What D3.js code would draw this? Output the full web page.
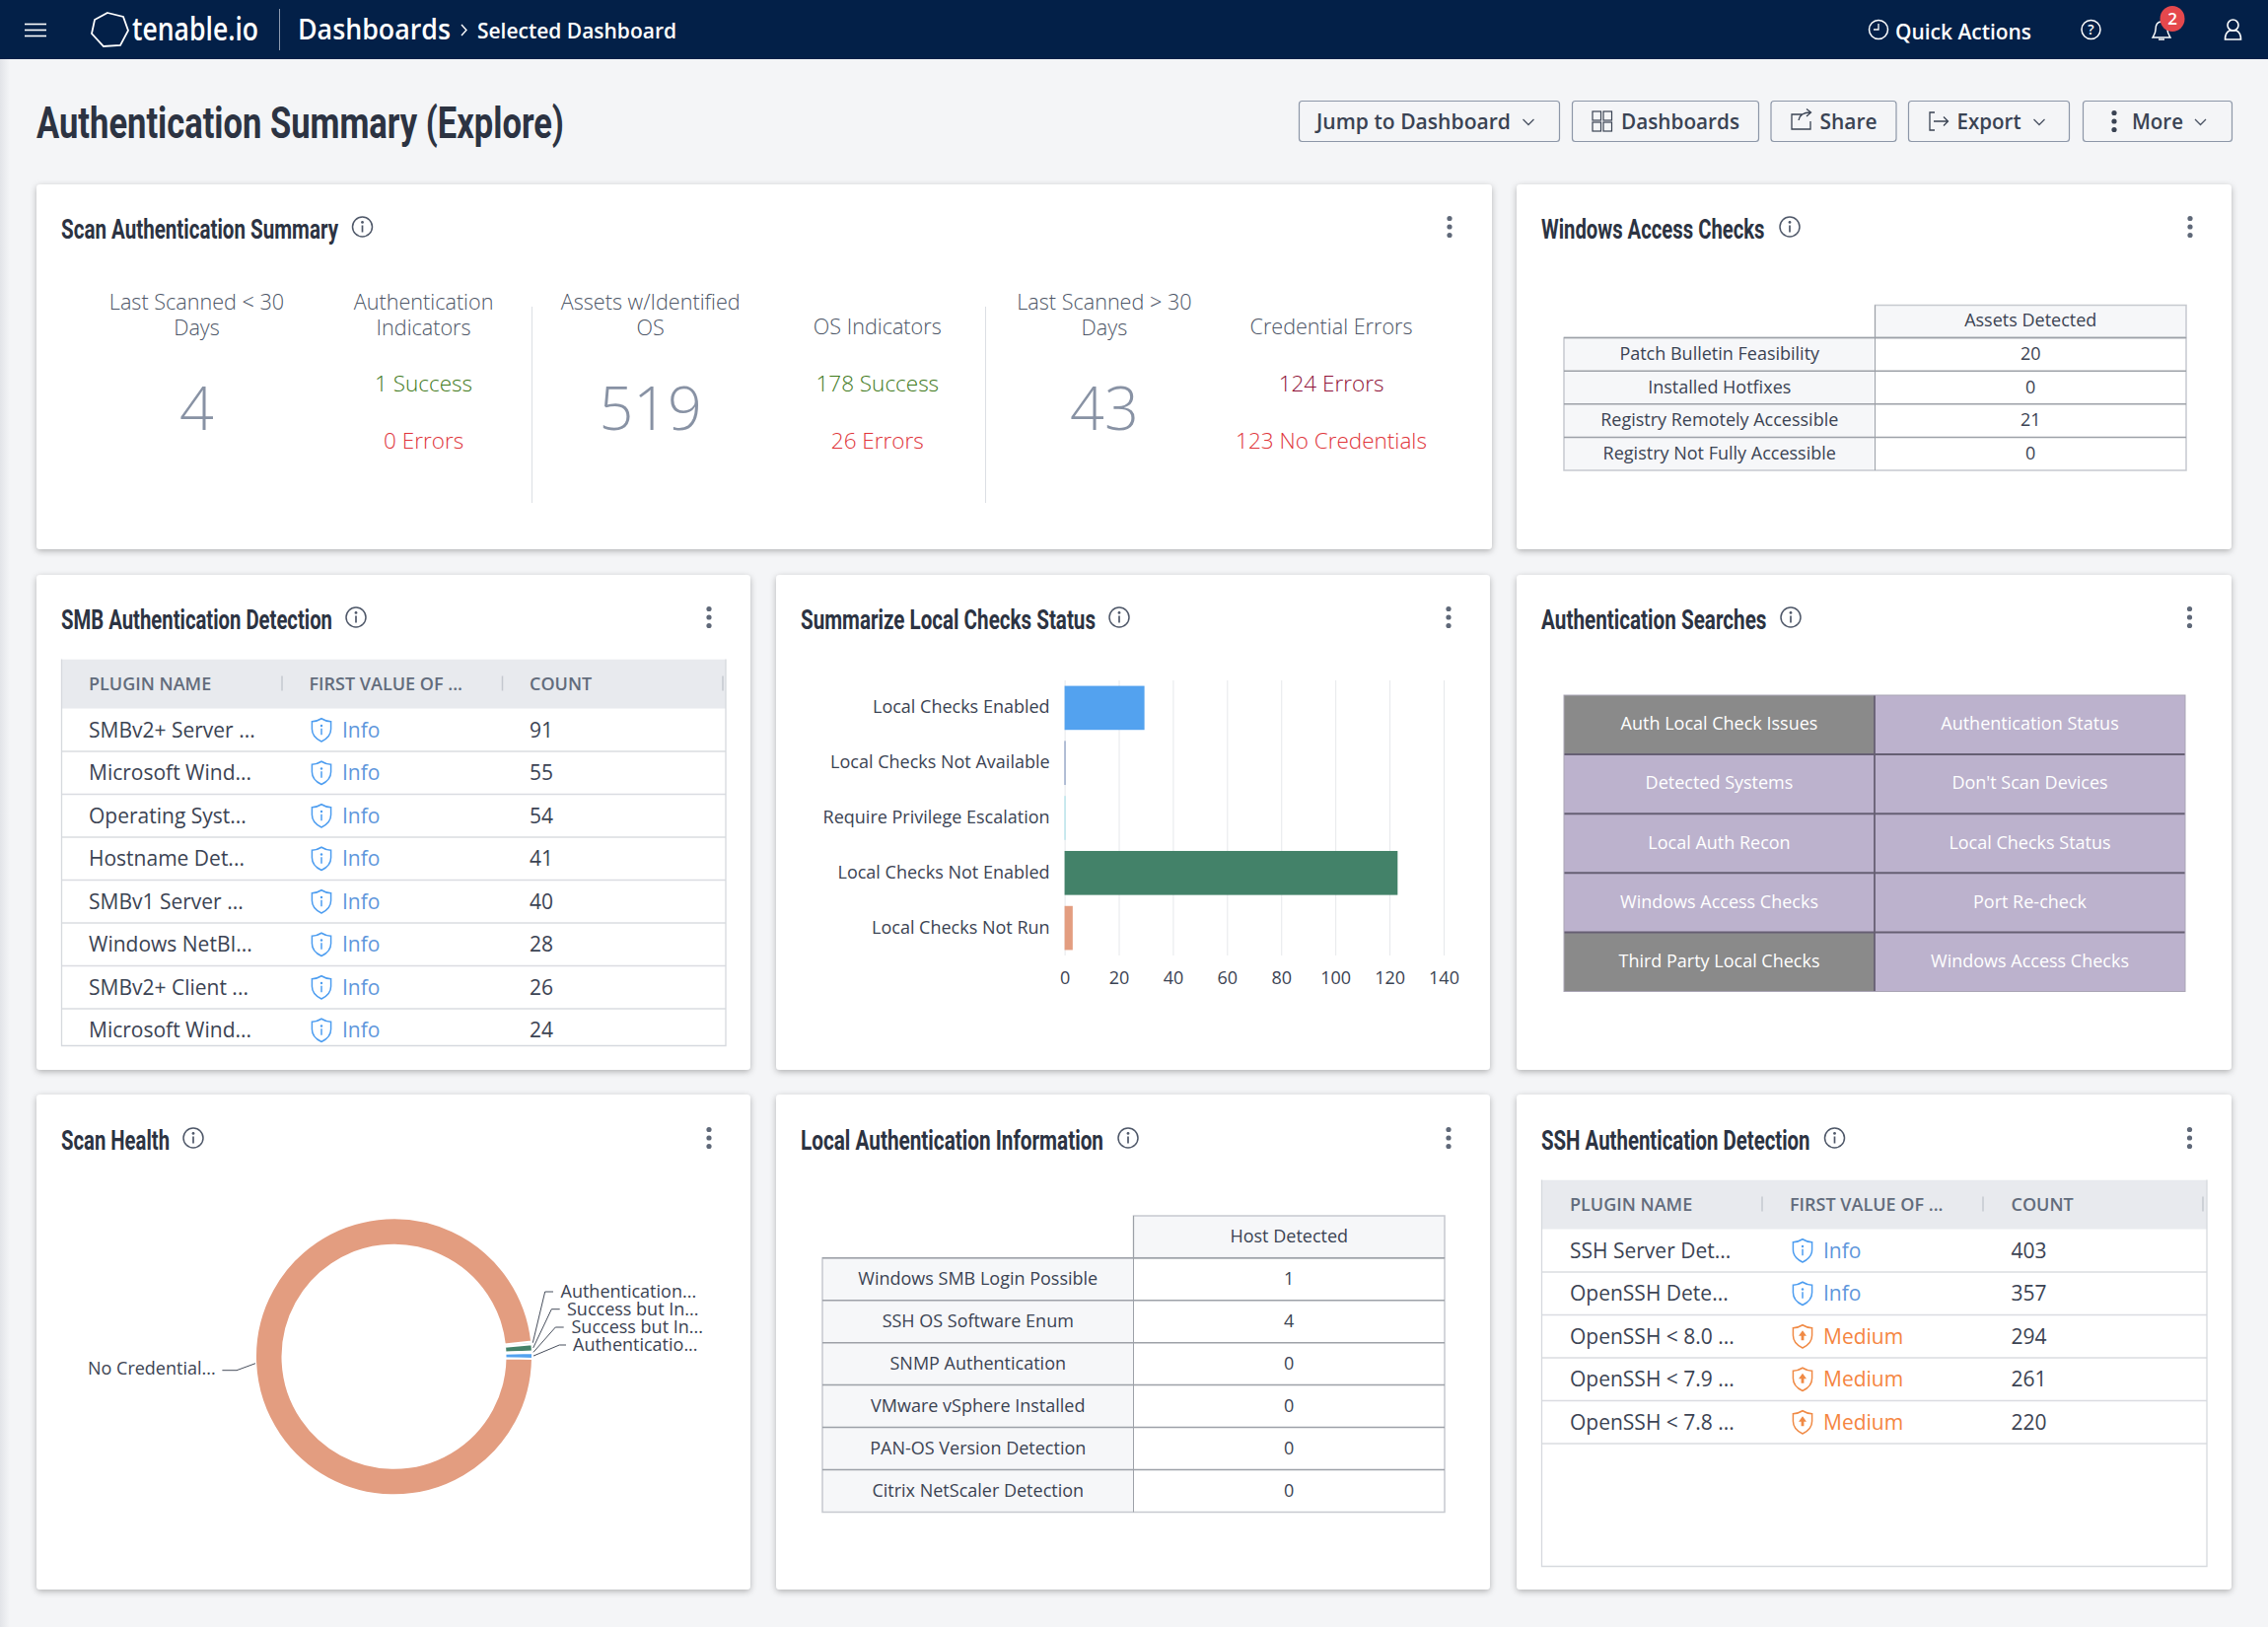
<!DOCTYPE html>
<html>
<head>
<meta charset="utf-8">
<script src="https://cdnjs.cloudflare.com/ajax/libs/d3/7.8.5/d3.min.js"></script>
<style>
  html, body { margin: 0; padding: 0; background: #f4f5f7; }
  svg { display: block; }
  text { font-family: "Open Sans", sans-serif; }
  .title { font-family: "Liberation Sans Narrow", "Roboto", sans-serif; font-weight: 700; fill: #2c3342; }
</style>
</head>
<body>
<div id="chart"></div>
<script>
// ---- values ----
var summaryLabels = [["Last Scanned < 30", "Days"], ["Authentication", "Indicators"], ["Assets w/Identified", "OS"], ["OS Indicators"], ["Last Scanned > 30", "Days"], ["Credential Errors"]];
var summaryNumbers = ["4", "", "519", "", "43", ""];
var summaryUpper = ["", "1 Success", "", "178 Success", "", "124 Errors"];
var summaryLower = ["", "0 Errors", "", "26 Errors", "", "123 No Credentials"];

var windowsRows = ["Patch Bulletin Feasibility", "Installed Hotfixes", "Registry Remotely Accessible", "Registry Not Fully Accessible"];
var windowsCounts = [20, 0, 21, 0];

var smbPlugins = ["SMBv2+ Server ...", "Microsoft Wind...", "Operating Syst...", "Hostname Det...", "SMBv1 Server ...", "Windows NetBI...", "SMBv2+ Client ...", "Microsoft Wind..."];
var smbSeverity = ["Info", "Info", "Info", "Info", "Info", "Info", "Info", "Info"];
var smbCounts = [91, 55, 54, 41, 40, 28, 26, 24];

var localCategories = ["Local Checks Enabled", "Local Checks Not Available", "Require Privilege Escalation", "Local Checks Not Enabled", "Local Checks Not Run"];
var localValues = [29.5, 0.3, 0.3, 123, 3];
var localTicks = [0, 20, 40, 60, 80, 100, 120, 140];

var searchNames = ["Auth Local Check Issues", "Authentication Status", "Detected Systems", "Don't Scan Devices", "Local Auth Recon", "Local Checks Status", "Windows Access Checks", "Port Re-check", "Third Party Local Checks", "Windows Access Checks"];
var searchGrey = [true, false, false, false, false, false, false, false, true, false];

var healthLabels = ["Authentication...", "Success but In...", "Success but In...", "Authenticatio...", "No Credential..."];
var healthValues = [2, 5, 1, 4, 588];

var hostRows = ["Windows SMB Login Possible", "SSH OS Software Enum", "SNMP Authentication", "VMware vSphere Installed", "PAN-OS Version Detection", "Citrix NetScaler Detection"];
var hostCounts = [1, 4, 0, 0, 0, 0];

var sshPlugins = ["SSH Server Det...", "OpenSSH Dete...", "OpenSSH < 8.0 ...", "OpenSSH < 7.9 ...", "OpenSSH < 7.8 ..."];
var sshSeverity = ["Info", "Info", "Medium", "Medium", "Medium"];
var sshCounts = [403, 357, 294, 261, 220];

var pluginHeaders = ["PLUGIN NAME", "FIRST VALUE OF ...", "COUNT"];

var ink = "#333b4b", infoBlue = "#5f97dc", mediumOrange = "#f5853f";

var svg = d3.select("#chart").append("svg").attr("width", 2300).attr("height", 1650);
var defs = svg.append("defs");

var shadow = defs.append("filter").attr("id", "cardShadow").attr("x", "-5%").attr("y", "-5%").attr("width", "110%").attr("height", "110%");
shadow.append("feDropShadow").attr("dx", 0).attr("dy", 2).attr("stdDeviation", 3).attr("flood-color", "#000").attr("flood-opacity", 0.28);

var edge = defs.append("linearGradient").attr("id", "leftEdge");
edge.append("stop").attr("offset", 0).attr("stop-color", "#e2e4e8");
edge.append("stop").attr("offset", 1).attr("stop-color", "#f4f5f7");

svg.append("rect").attr("width", 2300).attr("height", 1650).attr("fill", "#f4f5f7");
svg.append("rect").attr("y", 60).attr("width", 10).attr("height", 1590).attr("fill", "url(#leftEdge)");

// small helper so every label does not repeat the same attrs
function label(parent, str, x, y, size, opts) {
    opts = opts || {};
    var t = parent.append("text")
        .attr("x", x).attr("y", y).attr("dy", ".35em")
        .attr("font-size", size)
        .attr("fill", opts.fill || ink)
        .attr("font-weight", opts.weight || 400)
        .attr("text-anchor", opts.anchor || "start")
        .text(str);
    if (opts.width) t.attr("textLength", opts.width).attr("lengthAdjust", "spacingAndGlyphs");
    return t;
}

function infoIcon(parent, cx, cy) {
    var g = parent.append("g").attr("transform", "translate(" + cx + "," + cy + ")");
    g.append("circle").attr("r", 10).attr("fill", "none").attr("stroke", "#4f5869").attr("stroke-width", 1.5);
    g.append("circle").attr("cy", -4.6).attr("r", 1.4).attr("fill", "#4f5869");
    g.append("line").attr("y1", -1.5).attr("y2", 5.5).attr("stroke", "#4f5869").attr("stroke-width", 1.7);
}

function kebab(parent, cx, cy, color) {
    [-8.5, 0, 8.5].forEach(function(d) {
        parent.append("circle").attr("cx", cx).attr("cy", cy + d).attr("r", 2.6).attr("fill", color || "#5f6878");
    });
}

function card(x, y, x2, y2, title, titleWidth, infoX, kebabX, titleY) {
    var g = svg.append("g");
    g.append("rect").attr("x", x).attr("y", y).attr("width", x2 - x).attr("height", y2 - y)
        .attr("rx", 4).attr("fill", "#fff").attr("filter", "url(#cardShadow)");
    label(g, title, x + 25, titleY + 1, 28.5, { width: titleWidth }).attr("class", "title");
    infoIcon(g, infoX, titleY - 1);
    kebab(g, kebabX, titleY - 1);
    return g;
}

function shield(parent, cx, cy, color, severity) {
    var g = parent.append("g").attr("transform", "translate(" + cx + "," + cy + ")");
    g.append("path")
        .attr("d", "M0,-11.5 C3,-9.6 6.5,-8.6 9.6,-8.6 L9.6,-1 C9.6,5 5,9.4 0,11.7 C-5,9.4 -9.6,5 -9.6,-1 L-9.6,-8.6 C-6.5,-8.6 -3,-9.6 0,-11.5 Z")
        .attr("fill", "none").attr("stroke", color).attr("stroke-width", 1.5);
    if (severity === "Info") {
        g.append("circle").attr("cy", -4.2).attr("r", 1.2).attr("fill", color);
        g.append("line").attr("y1", -1.5).attr("y2", 5).attr("stroke", color).attr("stroke-width", 1.5);
    } else {
        g.append("path").attr("d", "M0,-6 L4,-0.5 L1.4,-0.5 L1.4,4 L-1.4,4 L-1.4,-0.5 L-4,-0.5 Z").attr("fill", color);
    }
}

// ---- top bar ----
var nav = svg.append("g");
nav.append("rect").attr("width", 2300).attr("height", 60).attr("fill", "#032048");
[24.5, 30.5, 36.5].forEach(function(y) {
    nav.append("line").attr("x1", 25).attr("x2", 47).attr("y1", y).attr("y2", y).attr("stroke", "#fff").attr("stroke-width", 1.6);
});
nav.append("path").attr("d", "M109,13 L125,17 L130,31 L122,46 L105,47 L93,34 L96,20 Z").attr("fill", "none").attr("stroke", "#fff").attr("stroke-width", 1.8);
label(nav, "tenable.io", 134, 29.5, 33, { fill: "#fff", weight: 600, width: 128 });
nav.append("line").attr("x1", 283.5).attr("x2", 283.5).attr("y1", 9).attr("y2", 51).attr("stroke", "#8e9bb0");
label(nav, "Dashboards", 302, 30, 28, { fill: "#fff", weight: 600, width: 155 });
nav.append("path").attr("d", "M468,25 L473,30.5 L468,36").attr("fill", "none").attr("stroke", "#fff").attr("stroke-width", 1.4);
label(nav, "Selected Dashboard", 484, 31, 21.5, { fill: "#fff", weight: 600, width: 202 });
nav.append("circle").attr("cx", 1905).attr("cy", 30).attr("r", 9.5).attr("fill", "none").attr("stroke", "#fff").attr("stroke-width", 1.5);
nav.append("path").attr("d", "M1905,24 L1905,30 L1900,30").attr("fill", "none").attr("stroke", "#fff").attr("stroke-width", 1.3);
label(nav, "Quick Actions", 1922, 32.5, 21.5, { fill: "#fff", weight: 600, width: 138 });
nav.append("circle").attr("cx", 2120.5).attr("cy", 30).attr("r", 9.5).attr("fill", "none").attr("stroke", "#fff").attr("stroke-width", 1.5);
label(nav, "?", 2120.5, 30, 14, { fill: "#fff", anchor: "middle", weight: 600 });
nav.append("path").attr("d", "M2192,22 C2187,22 2186,26 2186,30 C2186,34 2184,36 2183,38 L2201,38 C2200,36 2198,34 2198,30 C2198,26 2197,22 2192,22 Z M2189,40 L2195,40").attr("fill", "none").attr("stroke", "#fff").attr("stroke-width", 1.5);
nav.append("ellipse").attr("cx", 2203).attr("cy", 19).attr("rx", 12.5).attr("ry", 13).attr("fill", "#e5484d");
label(nav, "2", 2203, 19.5, 17, { fill: "#fff", anchor: "middle", weight: 600 });
nav.append("circle").attr("cx", 2264.5).attr("cy", 25.5).attr("r", 5.5).attr("fill", "none").attr("stroke", "#fff").attr("stroke-width", 1.6);
nav.append("path").attr("d", "M2256.5,40 C2256.5,34 2259,32 2261,31 L2268,31 C2270,32 2272.5,34 2272.5,40 Z").attr("fill", "none").attr("stroke", "#fff").attr("stroke-width", 1.6);

// ---- page header ----
label(svg, "Authentication Summary (Explore)", 37, 125, 43.5, { width: 535 }).attr("class", "title");

function toolButton(x, x2, text, textX, textWidth, chevronX) {
    var g = svg.append("g");
    g.append("rect").attr("x", x + 0.5).attr("y", 102.5).attr("width", x2 - x).attr("height", 41).attr("rx", 3)
        .attr("fill", "#f4f5f7").attr("stroke", "#8d97a8").attr("stroke-width", 1.2);
    label(g, text, textX, 124, 21, { weight: 600, fill: "#3a4353", width: textWidth });
    if (chevronX) {
        g.append("path").attr("d", "M" + (chevronX - 5.5) + ",121 L" + chevronX + ",126.5 L" + (chevronX + 5.5) + ",121")
            .attr("fill", "none").attr("stroke", "#4a5363").attr("stroke-width", 1.3);
    }
    return g;
}
toolButton(1317, 1581, "Jump to Dashboard", 1335, 197, 1550);
var dashBtn = toolButton(1594, 1783, "Dashboards", 1644, 120);
[[1615, 113], [1626, 113], [1615, 124], [1626, 124]].forEach(function(p) {
    dashBtn.append("rect").attr("x", p[0]).attr("y", p[1]).attr("width", 8.5).attr("height", 9).attr("fill", "none").attr("stroke", "#3a4353").attr("stroke-width", 1.2);
});
var shareBtn = toolButton(1795.5, 1922.5, "Share", 1845.5, 58);
shareBtn.append("path").attr("d", "M1828,116 L1817,116 L1817,131 L1836,131 L1836,123 M1824,122 C1825,116 1829,114 1836,114 M1832,110.5 L1836.5,114 L1832,118").attr("fill", "none").attr("stroke", "#3a4353").attr("stroke-width", 1.3);
var exportBtn = toolButton(1935, 2098, "Export", 1984.5, 65, 2068);
exportBtn.append("path").attr("d", "M1962,114 L1957,114 L1957,132 L1962,132 M1961,123 L1975,123 M1971,118.5 L1975.5,123 L1971,127.5").attr("fill", "none").attr("stroke", "#3a4353").attr("stroke-width", 1.3);
var moreBtn = toolButton(2112, 2263, "More", 2162, 52, 2231.5);
kebab(moreBtn, 2144, 123, "#3a4353");

// ---- Scan Authentication Summary ----
var summaryCard = card(37, 187, 1513, 557, "Scan Authentication Summary", 281, 367.5, 1470, 231);
var summaryX = d3.scalePoint().domain(d3.range(summaryLabels.length)).range([199.5, 1350]);

summaryLabels.forEach(function(lines, i) {
    var x = summaryX(i);
    var ys = lines.length > 1 ? [306.5, 332] : [331];
    lines.forEach(function(line, j) {
        label(summaryCard, line, x, ys[j], 21.6, { anchor: "middle", fill: "#4c5566" }).attr("font-weight", 300);
    });
    if (summaryNumbers[i]) {
        label(summaryCard, summaryNumbers[i], x, 415, 61, { anchor: "middle", fill: "#8892a4", weight: 300 });
    }
    if (summaryUpper[i]) {
        var upperFill = i === 5 ? "#8f1238" : "#3f7a1c";
        label(summaryCard, summaryUpper[i], x, 389, 22.5, { anchor: "middle", fill: upperFill, weight: 300 });
        label(summaryCard, summaryLower[i], x, 447, 22.5, { anchor: "middle", fill: "#e0343a", weight: 300 });
    }
});
[539.5, 999.5].forEach(function(x) {
    summaryCard.append("line").attr("x1", x).attr("x2", x).attr("y1", 311).attr("y2", 510).attr("stroke", "#dcdfe4");
});

// ---- bordered key/value tables (Windows Access Checks, Local Authentication Information) ----
function drawCountTable(parent, rowNames, counts, header, xs, headerY, rowsTop, rowsBottom, fontSize) {
    var rows = d3.scaleBand().domain(d3.range(rowNames.length)).range([rowsTop, rowsBottom]);
    var mid = xs[1], right = xs[2], left = xs[0];

    parent.append("rect").attr("x", mid).attr("y", headerY).attr("width", right - mid).attr("height", rowsTop - headerY)
        .attr("fill", "#f6f7f9").attr("stroke", "#c6c9cf").attr("stroke-width", 1.5);
    label(parent, header, (mid + right) / 2, (headerY + rowsTop) / 2 - 1, fontSize, { anchor: "middle", fill: "#3b4353" });

    parent.selectAll(null).data(rowNames).enter().append("rect")
        .attr("x", left).attr("y", function(d, i) { return rows(i); })
        .attr("width", mid - left).attr("height", rows.bandwidth())
        .attr("fill", "#f6f7f9");
    parent.append("rect").attr("x", left).attr("y", rowsTop).attr("width", right - left).attr("height", rowsBottom - rowsTop)
        .attr("fill", "none").attr("stroke", "#c6c9cf").attr("stroke-width", 1.5);
    parent.selectAll(null).data(rowNames).enter().append("line")
        .attr("x1", left).attr("x2", right)
        .attr("y1", function(d, i) { return rows(i); })
        .attr("y2", function(d, i) { return rows(i); })
        .attr("stroke", "#9da1a8").attr("stroke-width", 1.5);
    parent.append("line").attr("x1", mid).attr("x2", mid).attr("y1", headerY).attr("y2", rowsBottom).attr("stroke", "#9da1a8");

    rowNames.forEach(function(name, i) {
        var cy = rows(i) + rows.bandwidth() / 2 - 0.5;
        label(parent, name, (left + mid) / 2, cy, fontSize, { anchor: "middle", fill: "#3b4353" });
        label(parent, counts[i], (mid + right) / 2, cy, fontSize, { anchor: "middle", fill: "#3b4353" });
    });
}

var windowsCard = card(1538, 187, 2263, 557, "Windows Access Checks", 226.5, 1815, 2221, 231);
drawCountTable(windowsCard, windowsRows, windowsCounts, "Assets Detected", [1586, 1901.5, 2217], 309.5, 342.5, 477, 18);

// ---- plugin tables (SMB, SSH) ----
function drawPluginTable(parent, id, cfg) {
    var rows = d3.scaleBand().domain(d3.range(cfg.plugins.length)).range([cfg.headerBottom, cfg.headerBottom + cfg.plugins.length * 43.5]);

    defs.append("clipPath").attr("id", id).append("rect")
        .attr("x", cfg.left).attr("y", cfg.top).attr("width", cfg.right - cfg.left).attr("height", cfg.bottom - cfg.top);
    var g = parent.append("g").attr("clip-path", "url(#" + id + ")");

    g.append("rect").attr("x", cfg.left).attr("y", cfg.top).attr("width", cfg.right - cfg.left).attr("height", cfg.headerBottom - cfg.top).attr("fill", "#e8eaee");
    pluginHeaders.forEach(function(h, i) {
        label(g, h, cfg.headerX[i], (cfg.top + cfg.headerBottom) / 2, 18, { weight: 600, fill: "#626c7c" });
        g.append("line").attr("x1", cfg.sepX[i]).attr("x2", cfg.sepX[i])
            .attr("y1", cfg.top + 17).attr("y2", cfg.top + 32).attr("stroke", "#c4c8cf").attr("stroke-width", 1.5);
    });

    g.selectAll(null).data(cfg.plugins).enter().append("line")
        .attr("x1", cfg.left).attr("x2", cfg.right)
        .attr("y1", function(d, i) { return rows(i) + rows.bandwidth(); })
        .attr("y2", function(d, i) { return rows(i) + rows.bandwidth(); })
        .attr("stroke", "#dadce1").attr("stroke-width", 1.5);

    cfg.plugins.forEach(function(name, i) {
        var cy = rows(i) + rows.bandwidth() / 2;
        var color = cfg.severity[i] === "Info" ? infoBlue : mediumOrange;
        label(g, name, cfg.headerX[0], cy, 21, { fill: "#3b4353" });
        shield(g, cfg.iconX, cy, cfg.severity[i] === "Info" ? "#4d9df0" : "#f08a45", cfg.severity[i]);
        label(g, cfg.severity[i], cfg.iconX + 21, cy, 21, { fill: color });
        label(g, cfg.counts[i], cfg.headerX[2], cy, 21, { fill: "#3b4353" });
    });

    parent.append("path")
        .attr("d", "M" + cfg.left + "," + cfg.top + " L" + cfg.left + "," + cfg.bottom + " L" + cfg.right + "," + cfg.bottom + " L" + cfg.right + "," + cfg.top)
        .attr("fill", "none").attr("stroke", "#d6d9de").attr("stroke-width", 1.3);
}

var smbCard = card(37, 583, 761, 1085, "SMB Authentication Detection", 275, 361, 719, 627);
drawPluginTable(smbCard, "smbClip", {
    plugins: smbPlugins, severity: smbSeverity, counts: smbCounts,
    left: 62.5, right: 736, top: 668.5, headerBottom: 718.5, bottom: 1060.5,
    headerX: [90, 313.5, 537], sepX: [286, 509.5, 733], iconX: 326
});

var sshCard = card(1538, 1110, 2263, 1612, "SSH Authentication Detection", 272.5, 1860.5, 2220.5, 1155);
drawPluginTable(sshCard, "sshClip", {
    plugins: sshPlugins, severity: sshSeverity, counts: sshCounts,
    left: 1563.5, right: 2238, top: 1196.5, headerBottom: 1246.5, bottom: 1588.5,
    headerX: [1592, 1815, 2039.5], sepX: [1787, 2011, 2234], iconX: 1828
});

// ---- Summarize Local Checks Status ----
var localCard = card(787, 583, 1511, 1085, "Summarize Local Checks Status", 299, 1135, 1469, 627);
var x = d3.scaleLinear().domain([0, 140]).range([1079.6, 1464]);
var y = d3.scaleBand().domain(localCategories).range([690, 969]).paddingInner(0.2).paddingOuter(0.1);
var barColors = d3.scaleOrdinal().domain(localCategories).range(["#53a2ef", "#5572a8", "#8fd9e5", "#438269", "#e39d80"]);

var xAxis = localCard.append("g").attr("transform", "translate(0,969)")
    .call(d3.axisBottom(x).tickValues(localTicks).tickSize(-279).tickPadding(16));
xAxis.select(".domain").remove();
xAxis.selectAll("line").attr("stroke", "#e6e8eb");
xAxis.selectAll("text").attr("font-size", 18).attr("font-family", "'Open Sans'").attr("fill", "#3b4353");

localCard.selectAll(null).data(localValues).enter().append("rect")
    .attr("x", x(0))
    .attr("y", function(d, i) { return y(localCategories[i]); })
    .attr("width", function(d) { return x(d) - x(0); })
    .attr("height", y.bandwidth())
    .attr("fill", function(d, i) { return barColors(localCategories[i]); });

var yAxis = localCard.append("g").attr("transform", "translate(1079.6,0)")
    .call(d3.axisLeft(y).tickSize(0).tickPadding(15));
yAxis.select(".domain").remove();
yAxis.selectAll("text").attr("font-size", 18).attr("font-family", "'Open Sans'").attr("fill", "#3b4353").attr("dy", "0.3em");

// ---- Authentication Searches ----
var searchCard = card(1538, 583, 2263, 1085, "Authentication Searches", 228.5, 1816, 2220.5, 627);
var searchCol = d3.scaleBand().domain([0, 1]).range([1586, 2216]);
var searchRow = d3.scaleBand().domain(d3.range(searchNames.length / 2)).range([705, 1005.5]);

searchCard.selectAll(null).data(searchNames).enter().append("rect")
    .attr("x", function(d, i) { return searchCol(i % 2); })
    .attr("y", function(d, i) { return searchRow(Math.floor(i / 2)); })
    .attr("width", searchCol.bandwidth())
    .attr("height", searchRow.bandwidth())
    .attr("fill", function(d, i) { return searchGrey[i] ? "#8a8a8a" : "#bcb2cd"; });
// inner rules are heavier than the pale outer edge
searchCard.selectAll(null).data(searchRow.domain().slice(1)).enter().append("line")
    .attr("x1", 1586).attr("x2", 2216)
    .attr("y1", function(d) { return searchRow(d); })
    .attr("y2", function(d) { return searchRow(d); })
    .attr("stroke", "#665f73").attr("stroke-width", 2);
searchCard.append("line").attr("x1", searchCol(1)).attr("x2", searchCol(1)).attr("y1", 705).attr("y2", 1005.5)
    .attr("stroke", "#665f73").attr("stroke-width", 1.8);
searchCard.append("rect").attr("x", 1586).attr("y", 705).attr("width", 630).attr("height", 300.5)
    .attr("fill", "none").attr("stroke", "#aaa5b5").attr("stroke-width", 1);

searchNames.forEach(function(name, i) {
    var cx = searchCol(i % 2) + searchCol.bandwidth() / 2;
    var cy = searchRow(Math.floor(i / 2)) + searchRow.bandwidth() / 2 - 1;
    label(searchCard, name, cx, cy, 18, { anchor: "middle", fill: "#fff" });
});

// ---- Scan Health donut ----
var healthCard = card(37, 1110, 761, 1612, "Scan Health", 110, 196, 719, 1155);
var donutCenter = [399.5, 1375.8];
var pie = d3.pie().sort(null).startAngle(83.7 * Math.PI / 180).endAngle((83.7 + 360) * Math.PI / 180);
var arc = d3.arc().innerRadius(113).outerRadius(140.5);
var healthColors = d3.scaleOrdinal().domain(healthLabels.map(function(d, i) { return i; })).range(["#cfe6ee", "#438269", "#e8eef6", "#53a2ef", "#e39d80"]);

var donut = healthCard.append("g").attr("transform", "translate(" + donutCenter[0] + "," + donutCenter[1] + ")");
var slices = pie(healthValues);
donut.selectAll("path").data(slices).enter().append("path")
    .attr("d", arc)
    .attr("fill", function(d, i) { return healthColors(i); })
    .attr("stroke", "#fff").attr("stroke-width", 2);

// connector lines start on the slice edge, label rows are stacked by hand
var labelLayout = [
    { textX: 568.5, textY: 1310, elbowX: 552.7, endX: 561 },
    { textX: 575, textY: 1327.7, elbowX: 559.3, endX: 567.7 },
    { textX: 579.5, textY: 1346, elbowX: 563.3, endX: 571.7 },
    { textX: 581, textY: 1364, elbowX: 567.3, endX: 574 },
    { textX: 89, textY: 1387.5, elbowX: 240, endX: 225.4 }
];
var rimArc = d3.arc().innerRadius(141.5).outerRadius(141.5);

slices.forEach(function(s, i) {
    var rim = rimArc.centroid(s);
    var big = i === slices.length - 1;
    // the big slice's middle sits on the far side, its leader goes to the left rim
    var start = big ? [259, 1382.7] : [donutCenter[0] + rim[0], donutCenter[1] + rim[1]];
    var l = labelLayout[i];
    var lineY = big ? 1389.7 : l.textY;
    healthCard.append("path")
        .attr("d", d3.line()([start, [l.elbowX, lineY], [l.endX, lineY]]))
        .attr("fill", "none").attr("stroke", "#474e5c").attr("stroke-width", 1);
    label(healthCard, healthLabels[i], l.textX, l.textY, 18, { fill: "#3b4353" });
});

// ---- Local Authentication Information ----
var hostCard = card(787, 1110, 1511, 1612, "Local Authentication Information", 307, 1144, 1469, 1155);
drawCountTable(hostCard, hostRows, hostCounts, "Host Detected", [834, 1149.5, 1465], 1233, 1275.7, 1533.5, 18);
</script>
</body>
</html>
